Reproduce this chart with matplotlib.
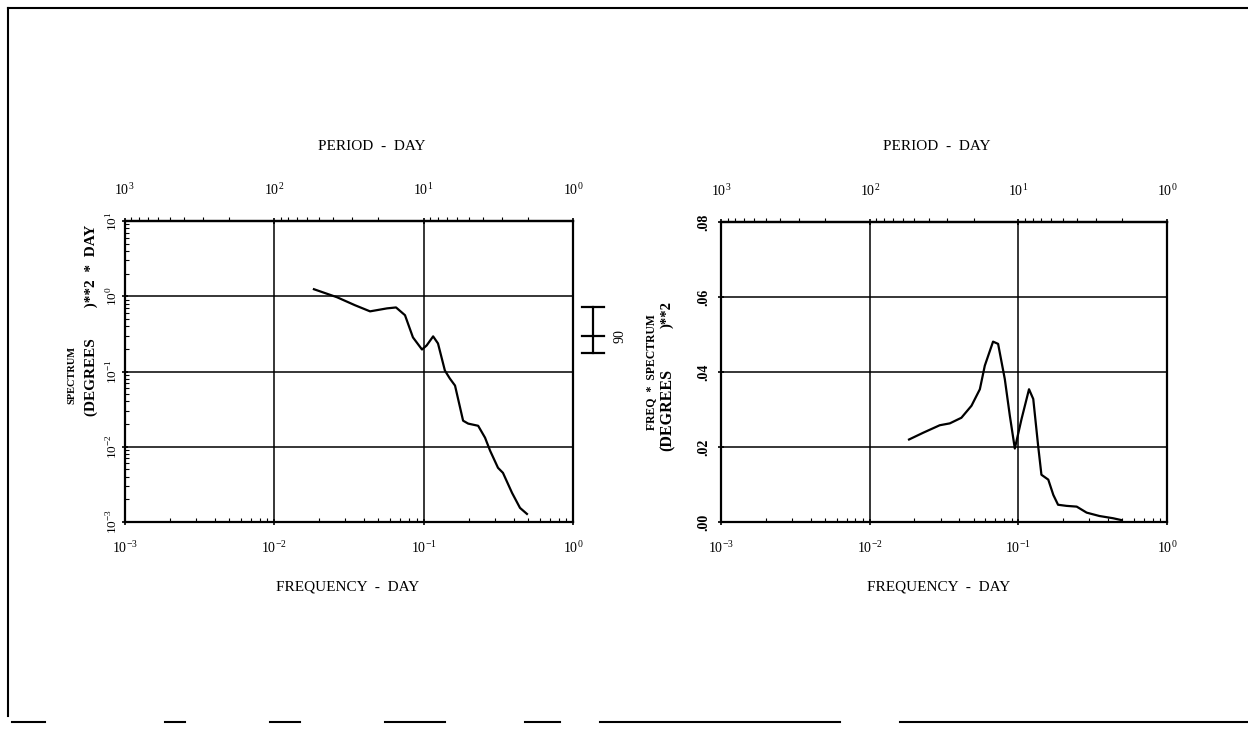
import numpy as np
import matplotlib
matplotlib.use('Agg')
import matplotlib.pyplot as plt
from matplotlib.transforms import blended_transform_factory

plt.rcParams['font.family'] = ['Liberation Serif', 'DejaVu Serif']
plt.rcParams['mathtext.fontset'] = 'custom'
plt.rcParams['mathtext.rm'] = 'Liberation Serif'

# ---- data ----
# left panel: spectrum vs frequency (log-log)
freq_spec = [0.0185, 0.0264, 0.0348, 0.0439, 0.057, 0.0655, 0.0752, 0.085, 0.0977,
             0.105, 0.116, 0.125, 0.139, 0.150, 0.1625, 0.184, 0.199, 0.232, 0.258,
             0.279, 0.315, 0.340, 0.391, 0.442, 0.492]
spectrum = [1.24, 0.97, 0.76, 0.63, 0.69, 0.71, 0.56, 0.284, 0.196,
            0.222, 0.293, 0.236, 0.103, 0.0807, 0.065, 0.0222, 0.0203, 0.019, 0.0132,
            0.00885, 0.00525, 0.0045, 0.00244, 0.00154, 0.00128]

# 90% confidence bar (low, mid, high)
conf_bar = [0.174, 0.30, 0.71]
conf_label = '90'

# right panel: freq * spectrum vs frequency (log-linear)
freq_var = [0.0184, 0.0229, 0.0296, 0.0346, 0.0414, 0.0484, 0.0551, 0.0595, 0.0676,
            0.0731, 0.0811, 0.0877, 0.0947, 0.105, 0.118, 0.126, 0.136, 0.143, 0.159,
            0.172, 0.185, 0.211, 0.247, 0.288, 0.351, 0.434, 0.495]
freq_x_spec = [0.0220, 0.0238, 0.0258, 0.0263, 0.0278, 0.0310, 0.0354, 0.0417, 0.0481,
               0.0475, 0.0381, 0.0283, 0.0196, 0.0274, 0.0354, 0.0328, 0.0202, 0.0126, 0.0113,
               0.0072, 0.0046, 0.0043, 0.0041, 0.0025, 0.0016, 0.0010, 0.0005]

freq_ticks = [1e-3, 1e-2, 1e-1, 1e0]
freq_labels = [r'$10^{-3}$', r'$10^{-2}$', r'$10^{-1}$', r'$10^{0}$']
period_ticks = [1e3, 1e2, 1e1, 1e0]
period_labels = [r'$10^{3}$', r'$10^{2}$', r'$10^{1}$', r'$10^{0}$']
spec_ticks = [1e-3, 1e-2, 1e-1, 1e0, 1e1]
spec_labels = [r'$10^{-3}$', r'$10^{-2}$', r'$10^{-1}$', r'$10^{0}$', r'$10^{1}$']
var_ticks = [0.0, 0.02, 0.04, 0.06, 0.08]
var_labels = ['.00', '.02', '.04', '.06', '.08']

W, H = 1248, 731
fig = plt.figure(figsize=(W / 100, H / 100), dpi=100)


def px_axes(x0, y0, x1, y1):
    return fig.add_axes([x0 / W, 1 - y1 / H, (x1 - x0) / W, (y1 - y0) / H])


def inv(x):
    x = np.asarray(x, dtype=float)
    with np.errstate(divide='ignore'):
        return 1.0 / x


def style_panel(ax, ypad):
    ax.set_xscale('log')
    ax.set_xlim(1e-3, 1e0)
    ax.set_xticks(freq_ticks)
    ax.set_xticklabels(freq_labels)
    for s in ax.spines.values():
        s.set_linewidth(1.6)
        s.set_color('black')
    ax.tick_params(axis='both', which='major', direction='inout', length=5, width=1.2,
                   labelsize=10)
    ax.tick_params(axis='x', which='major', pad=10)
    ax.tick_params(axis='y', which='major', pad=ypad, labelrotation=90)
    ax.tick_params(axis='both', which='minor', direction='in', length=3, width=0.8)
    ax.grid(True, which='major', color='black', linewidth=1.1)
    sec = ax.secondary_xaxis('top', functions=(inv, inv))
    sec.set_xticks(period_ticks)
    sec.set_xticklabels(period_labels)
    sec.tick_params(axis='x', which='major', direction='inout', length=5, width=1.2,
                    labelsize=10, pad=14)
    sec.tick_params(axis='x', which='minor', direction='out', length=3, width=0.8)
    sec.spines['top'].set_linewidth(1.6)
    return sec


# ---- left panel ----
ax1 = px_axes(124.5, 221, 573, 522)
style_panel(ax1, ypad=0)
ax1.set_yscale('log')
ax1.set_ylim(1e-3, 1e1)
ax1.set_yticks(spec_ticks)
ax1.set_yticklabels(spec_labels, va='center', fontsize=9.5)
ax1.plot(freq_spec, spectrum, color='black', linewidth=1.6)

# confidence bar drawn just right of the panel
tr = blended_transform_factory(ax1.transAxes, ax1.transData)
bx = 1.0446
ax1.plot([bx, bx], [conf_bar[0], conf_bar[2]], color='black', lw=1.6, transform=tr, clip_on=False)
for v in conf_bar:
    ax1.plot([bx - 0.025, bx + 0.025], [v, v], color='black', lw=1.6, transform=tr, clip_on=False)
ax1.text(bx + 0.06, conf_bar[1], conf_label, transform=tr, rotation=90, ha='center',
         va='center', fontsize=10)

# ---- right panel ----
ax2 = px_axes(721, 222, 1167, 522)
style_panel(ax2, ypad=5)
ax2.set_ylim(0, 0.08)
ax2.set_yticks(var_ticks)
ax2.set_yticklabels(var_labels, va='center', fontweight='bold')
ax2.plot(freq_var, freq_x_spec, color='black', linewidth=1.6)

# ---- titles / labels in pixel positions ----
def ftext(x, y, s, **kw):
    fig.text(x / W, 1 - y / H, s, **kw)


for cx in (372, 937):
    ftext(cx, 146, 'PERIOD  -  DAY', ha='center', va='center', fontsize=11)
for cx in (348, 939):
    ftext(cx, 587, 'FREQUENCY  -  DAY', ha='center', va='center', fontsize=11)

ftext(91, 320, '(DEGREES        )**2  *  DAY', rotation=90, ha='center', va='center',
      fontsize=11, fontweight='bold')
ftext(72, 375, 'SPECTRUM', rotation=90, ha='center', va='center', fontsize=7.5,
      fontweight='bold')
ftext(651, 372, 'FREQ  *  SPECTRUM', rotation=90, ha='center', va='center', fontsize=8.5,
      fontweight='bold')
ftext(667, 314, ')**2', rotation=90, ha='center', va='center', fontsize=10.5,
      fontweight='bold')
ftext(668, 410, '(DEGREES', rotation=90, ha='center', va='center', fontsize=11.5,
      fontweight='bold')

# ---- scanned page border ----
border = fig.add_axes([0, 0, 1, 1], facecolor='none')
border.set_xlim(0, W)
border.set_ylim(H, 0)
border.axis('off')
border.plot([8, W], [8, 8], color='black', lw=1.5)
border.plot([8, 8], [8, 716], color='black', lw=1.5)
for x0, x1 in [(12, 45), (165, 185), (270, 300), (385, 445), (525, 560), (600, 840), (900, W)]:
    border.plot([x0, x1], [722, 722], color='black', lw=1.5)

fig.savefig('out.png', dpi=100)
